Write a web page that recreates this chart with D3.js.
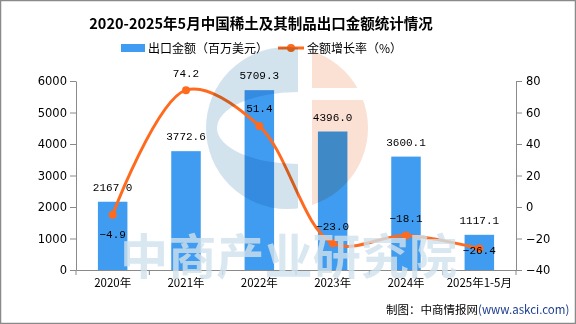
<!DOCTYPE html>
<html>
<head>
<meta charset="utf-8">
<script src="https://cdn.jsdelivr.net/npm/d3@7"></script>
<style>
  html, body { margin: 0; padding: 0; background: #fff; }
  svg { display: block; }
  text { font-family: "Noto Sans CJK SC", "DejaVu Sans", sans-serif; }
</style>
</head>
<body>
<div id="chart"></div>
<script>
// data
var years = ["2020年", "2021年", "2022年", "2023年", "2024年", "2025年1-5月"];
var exportValue = [2167.0, 3772.6, 5709.3, 4396.0, 3600.1, 1117.1];   // 百万美元
var growthRate = [-4.9, 74.2, 51.4, -23.0, -18.1, -26.4];               // %
var leftTicks = [0, 1000, 2000, 3000, 4000, 5000, 6000];
var rightTicks = [-40, -20, 0, 20, 40, 60, 80];

// offsets of the rate labels from their points (px, + = down)
var rateLabelDy = [19, -17, -18, -17, -18, 1];

var W = 576, H = 324;
var margin = {top: 81, right: 60, bottom: 54, left: 76},
    width = W - margin.left - margin.right,
    height = H - margin.top - margin.bottom;

var svg = d3.select("#chart")
  .append("svg")
    .attr("width", W)
    .attr("height", H);

var defs = svg.append("defs");

// outer frame
svg.append("rect")
  .attr("x", 0.5).attr("y", 0.5)
  .attr("width", W - 1).attr("height", H - 1)
  .attr("fill", "#fff")
  .attr("stroke", "#8a8a8a")
  .attr("stroke-width", 1.5);

// title
svg.append("text")
  .attr("x", 261).attr("y", 29)
  .attr("text-anchor", "middle")
  .style("font-size", "14.5px")
  .style("font-weight", "bold")
  .attr("fill", "#000")
  .text("2020-2025年5月中国稀土及其制品出口金额统计情况");

// legend
var legend = svg.append("g").style("font-size", "12px");
legend.append("rect")
  .attr("x", 121).attr("y", 44).attr("width", 24).attr("height", 8)
  .attr("fill", "#409cf0");
legend.append("text")
  .attr("x", 148).attr("y", 52.5)
  .attr("fill", "#000")
  .text("出口金额（百万美元）");
legend.append("line")
  .attr("x1", 278).attr("x2", 304).attr("y1", 48).attr("y2", 48)
  .attr("stroke", "#ff6a1f").attr("stroke-width", 3);
legend.append("circle")
  .attr("cx", 291).attr("cy", 48).attr("r", 4)
  .attr("fill", "#ff6a1f");
legend.append("text")
  .attr("x", 307).attr("y", 52.5)
  .attr("fill", "#000")
  .text("金额增长率（%）");

var g = svg.append("g")
  .attr("transform", "translate(" + margin.left + "," + margin.top + ")");

// scales
var x = d3.scaleBand()
  .domain(years)
  .range([0, width]);

var yL = d3.scaleLinear()
  .domain([0, 6000])
  .range([height, 0]);

var yR = d3.scaleLinear()
  .domain([-40, 80])
  .range([height, 0]);

var cx = function(i) { return x(years[i]) + x.bandwidth() / 2; };

// bars
var barW = 29.5;
g.selectAll(".bar")
  .data(exportValue)
  .enter().append("rect")
    .attr("class", "bar")
    .attr("x", function(d, i) { return cx(i) - barW / 2; })
    .attr("y", function(d) { return yL(d); })
    .attr("width", barW)
    .attr("height", function(d) { return height - yL(d); })
    .attr("fill", "#409cf0");

// left axis
g.append("g")
  .call(d3.axisLeft(yL).tickValues(leftTicks).tickSize(6).tickSizeOuter(0).tickPadding(3)
    .tickFormat(d3.format("d")))
  .call(function(a) {
    a.selectAll("path, line").attr("stroke", "#8a8a8a");
    a.selectAll("text").style("font-family", "DejaVu Sans").style("font-size", "11.5px").attr("fill", "#000");
  });

// right axis
g.append("g")
  .attr("transform", "translate(" + width + ",0)")
  .call(d3.axisRight(yR).tickValues(rightTicks).tickSize(6).tickSizeOuter(0).tickPadding(4)
    .tickFormat(function(d) { return d < 0 ? "\u2212" + Math.abs(d) : d; }))
  .call(function(a) {
    a.selectAll("path, line").attr("stroke", "#8a8a8a");
    a.selectAll("text").style("font-family", "DejaVu Sans").style("font-size", "11.5px").attr("fill", "#000");
  });

// bottom axis, ticks at band edges
var xAxis = g.append("g")
  .attr("transform", "translate(0," + height + ")")
  .call(d3.axisBottom(x).tickSize(0).tickSizeOuter(0).tickPadding(9));
xAxis.select(".domain").attr("stroke", "#8a8a8a");
xAxis.selectAll("text").style("font-size", "11.5px").attr("fill", "#000");
xAxis.selectAll(".edge")
  .data(years.map(function(d) { return x(d); }).concat([width]))
  .enter().append("line")
    .attr("class", "edge")
    .attr("x1", function(d) { return d; }).attr("x2", function(d) { return d; })
    .attr("y1", 0).attr("y2", 5)
    .attr("stroke", "#8a8a8a");

// bar value labels
g.selectAll(".barLabel")
  .data(exportValue)
  .enter().append("text")
    .attr("class", "barLabel")
    .attr("x", function(d, i) { return cx(i); })
    .attr("y", function(d) { return yL(d) - 11; })
    .attr("text-anchor", "middle")
    .style("font-family", "Liberation Mono")
    .style("font-size", "11px")
    .attr("fill", "#000")
    .text(function(d) { return d.toFixed(1); });

// growth rate line
var line = d3.line()
  .x(function(d, i) { return cx(i); })
  .y(function(d) { return yR(d); })
  .curve(d3.curveCatmullRom.alpha(0.5));

g.append("path")
  .datum(growthRate)
  .attr("fill", "none")
  .attr("stroke", "#ff6a1f")
  .attr("stroke-width", 3)
  .attr("d", line);

g.selectAll(".dot")
  .data(growthRate)
  .enter().append("circle")
    .attr("class", "dot")
    .attr("cx", function(d, i) { return cx(i); })
    .attr("cy", function(d) { return yR(d); })
    .attr("r", 4)
    .attr("fill", "#ff6a1f");

g.selectAll(".rateLabel")
  .data(growthRate)
  .enter().append("text")
    .attr("class", "rateLabel")
    .attr("x", function(d, i) { return cx(i); })
    .attr("y", function(d, i) { return yR(d) + rateLabelDy[i] + 4; })
    .attr("text-anchor", "middle")
    .style("font-family", "Liberation Mono")
    .style("font-size", "11px")
    .attr("fill", "#000")
    .text(function(d) { return d < 0 ? "\u2212" + Math.abs(d).toFixed(1) : d.toFixed(1); });

// watermark logo: blue "C" and orange half disc, multiplied over the chart
var lx = 287, ly = 128, lr = 81;
var maskBlue = defs.append("mask").attr("id", "mask-blue")
  .attr("maskUnits", "userSpaceOnUse")
  .attr("x", 0).attr("y", 0).attr("width", W).attr("height", H);
maskBlue.append("rect")
  .attr("x", lx - lr - 2).attr("y", ly - lr - 2)
  .attr("width", 298 - (lx - lr - 2)).attr("height", 2 * lr + 4)
  .attr("fill", "#fff");
maskBlue.append("ellipse")
  .attr("cx", 298).attr("cy", ly).attr("rx", 81).attr("ry", 36)
  .attr("fill", "#000");

var clipOrange = defs.append("clipPath").attr("id", "clip-orange");
clipOrange.append("rect")
  .attr("x", 312).attr("y", ly - lr - 2).attr("width", 80).attr("height", 88 - (ly - lr - 2));
clipOrange.append("rect")
  .attr("x", 312).attr("y", 100).attr("width", 80).attr("height", ly + lr + 2 - 100);

var logo = svg.append("g")
  .style("mix-blend-mode", "multiply");
logo.append("circle")
  .attr("cx", lx).attr("cy", ly).attr("r", lr)
  .attr("fill", "#d3e3ee")
  .attr("mask", "url(#mask-blue)");
logo.append("circle")
  .attr("cx", lx).attr("cy", ly).attr("r", lr)
  .attr("fill", "#fbe0d4")
  .attr("clip-path", "url(#clip-orange)");

// watermark text
svg.append("text")
  .attr("x", 120).attr("y", 274)
  .attr("textLength", 337)
  .style("font-size", "48px")
  .style("font-weight", "bold")
  .attr("fill", "#cfe1ec")
  .attr("fill-opacity", 0.8)
  .text("中商产业研究院");

// source note
var src = svg.append("text")
  .attr("x", 386).attr("y", 314)
  .style("font-size", "11.5px");
src.append("tspan").attr("fill", "#000").text("制图：中商情报网");
src.append("tspan").attr("fill", "#1d3f8f").text("(www.askci.com)");
</script>
</body>
</html>
